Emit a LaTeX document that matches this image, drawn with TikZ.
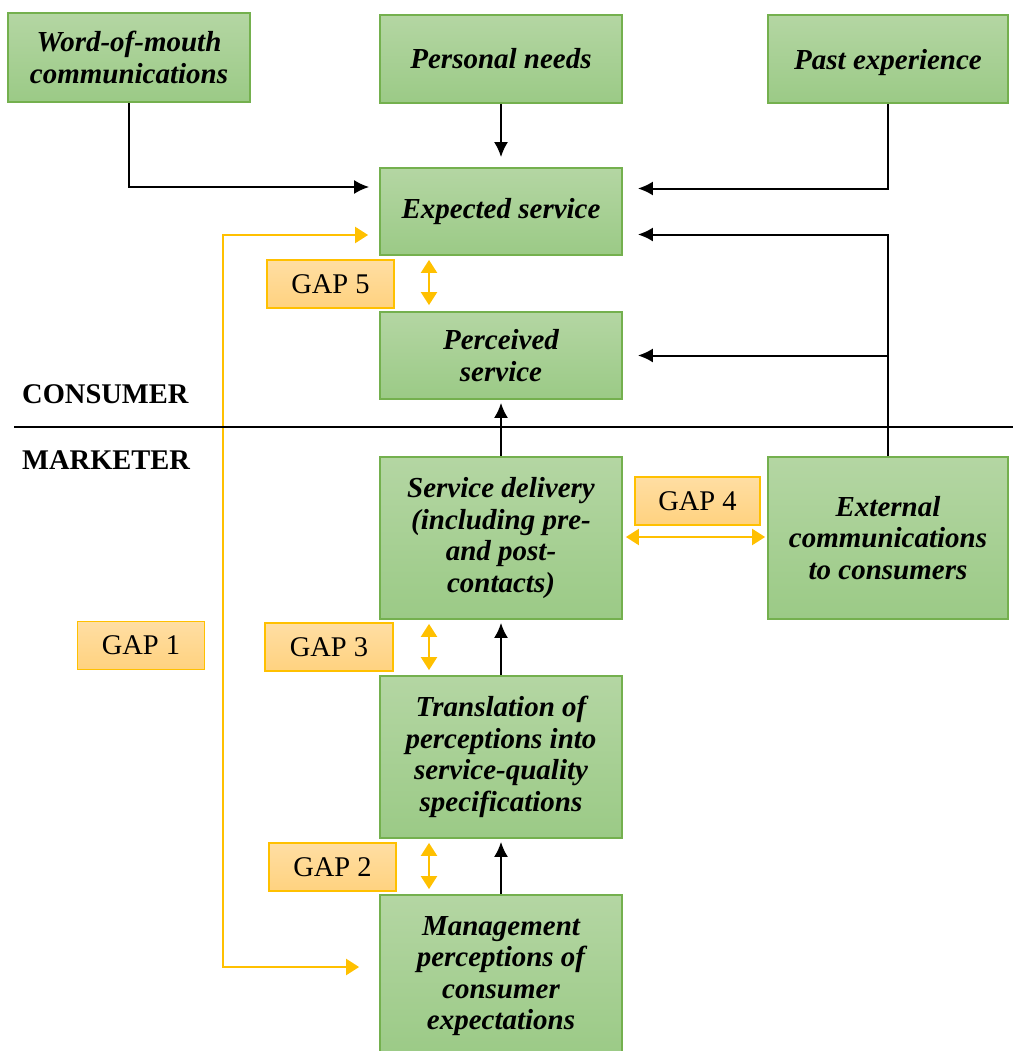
\documentclass[tikz,border=0pt]{standalone}
\usepackage{fontspec}
\setmainfont{Liberation Serif}
\usetikzlibrary{arrows.meta,calc}
\definecolor{gtop}{HTML}{B4D6A3}
\definecolor{gbot}{HTML}{9BCA86}
\definecolor{gborder}{HTML}{74B04E}
\definecolor{ytop}{HTML}{FFDEA3}
\definecolor{ybot}{HTML}{FFD27F}
\definecolor{yborder}{HTML}{FFC000}
\tikzset{
  box/.style={draw=gborder,line width=1.8pt,top color=gtop,bottom color=gbot,
    minimum width=242pt,align=center,inner sep=0pt,
    font=\fontsize{29}{31.5}\selectfont\bfseries\itshape},
  gapbox/.style={draw=yborder,line width=1.8pt,top color=ytop,bottom color=ybot,
    minimum width=127pt,minimum height=48pt,inner sep=0pt,
    font=\fontsize{28.5}{30}\selectfont},
  arr/.style={draw=black,line width=2pt,-{Latex[length=15pt,width=14pt]}},
  yarr/.style={draw=yborder,line width=2.2pt,{Triangle[length=13pt,width=16pt]}-{Triangle[length=13pt,width=16pt]}},
  side/.style={anchor=base west,inner sep=0pt,font=\fontsize{28.5}{30}\selectfont\bfseries}
}
\begin{document}
\begin{tikzpicture}[x=1pt,y=-1pt]
\useasboundingbox (0,0) rectangle (1013,1051);
\clip (0,0) rectangle (1013,1051);
% boxes
\node[box,minimum height=89pt] (wom) at (129,57.5) {Word-of-mouth\\communications};
\node[box,minimum height=88pt] (pn) at (501,59) {Personal needs};
\node[box,minimum height=88pt,minimum width=240pt,text depth=0pt] (pe) at (888,59) {Past experience};
\node[box,minimum height=87pt] (es) at (501,211.5) {Expected service};
\node[box,minimum height=87pt] (ps) at (501,355.5) {Perceived\\service};
\node[box,minimum height=162pt] (sd) at (501,538) {Service delivery\\(including pre-\\and post-\\contacts)};
\node[box,minimum height=162pt,minimum width=240pt] (ec) at (888,538) {External\\communications\\to consumers};
\node[box,minimum height=162pt] (tr) at (501,757) {Translation of\\perceptions into\\service-quality\\specifications};
\node[box,minimum height=162pt] (mg) at (501,976) {Management\\perceptions of\\consumer\\expectations};
% gap boxes
\node[gapbox] (g5) at (330.5,284) {GAP 5};
\node[gapbox,minimum width=125pt] (g4) at (697.5,501) {GAP 4};
\node[gapbox] (g1) at (141,645.5) {GAP 1};
\node[gapbox,minimum width=128pt] (g3) at (329,647) {GAP 3};
\node[gapbox] (g2) at (332.5,867) {GAP 2};
% consumer / marketer
\coordinate (dl) at (14,427);
\coordinate (dr) at (1013,427);
\node[side] (cons) at (22,403) {CONSUMER};
\node[side] (mark) at (22,469) {MARKETER};
% yellow loop (GAP 1)
\coordinate (lp) at (223,600);
\draw[yarr,shorten <=11pt,shorten >=20pt]
  ([yshift=-23.5pt]es.west) -| (lp) |- ([yshift=9pt]mg.west);
\draw[black,line width=1.5pt] (dl) -- (dr);
% black arrows
\draw[arr,shorten >=10pt] (wom.south) |- ([yshift=24.5pt]es.west);
\draw[arr,shorten >=10pt] (pn.south) -- (es.north);
\draw[arr,shorten >=15pt] (pe.south) |- ([yshift=23pt]es.east);
\draw[arr,shorten >=15pt] (ec.north) |- ([yshift=-23pt]es.east);
\coordinate (br) at (ec.north |- ps.east);
\draw[arr,shorten >=15pt] (br) -- (ps.east);
\draw[arr,shorten >=3pt] (sd.north) -- (ps.south);
\draw[arr,shorten >=3pt] (tr.north) -- (sd.south);
\draw[arr,shorten >=3pt] (mg.north) -- (tr.south);
% gap arrows
\draw[yarr,shorten <=4pt,shorten >=6pt] ([xshift=-72pt]es.south) -- ([xshift=-72pt]ps.north);
\draw[yarr,shorten <=4pt,shorten >=5pt] ([xshift=-72pt]sd.south) -- ([xshift=-72pt]tr.north);
\draw[yarr,shorten <=4pt,shorten >=5pt] ([xshift=-72pt]tr.south) -- ([xshift=-72pt]mg.north);
\draw[yarr,shorten <=3pt,shorten >=2pt] ([yshift=1pt]sd.east) -- ([yshift=1pt]sd.east -| ec.west);
\end{tikzpicture}
\end{document}
